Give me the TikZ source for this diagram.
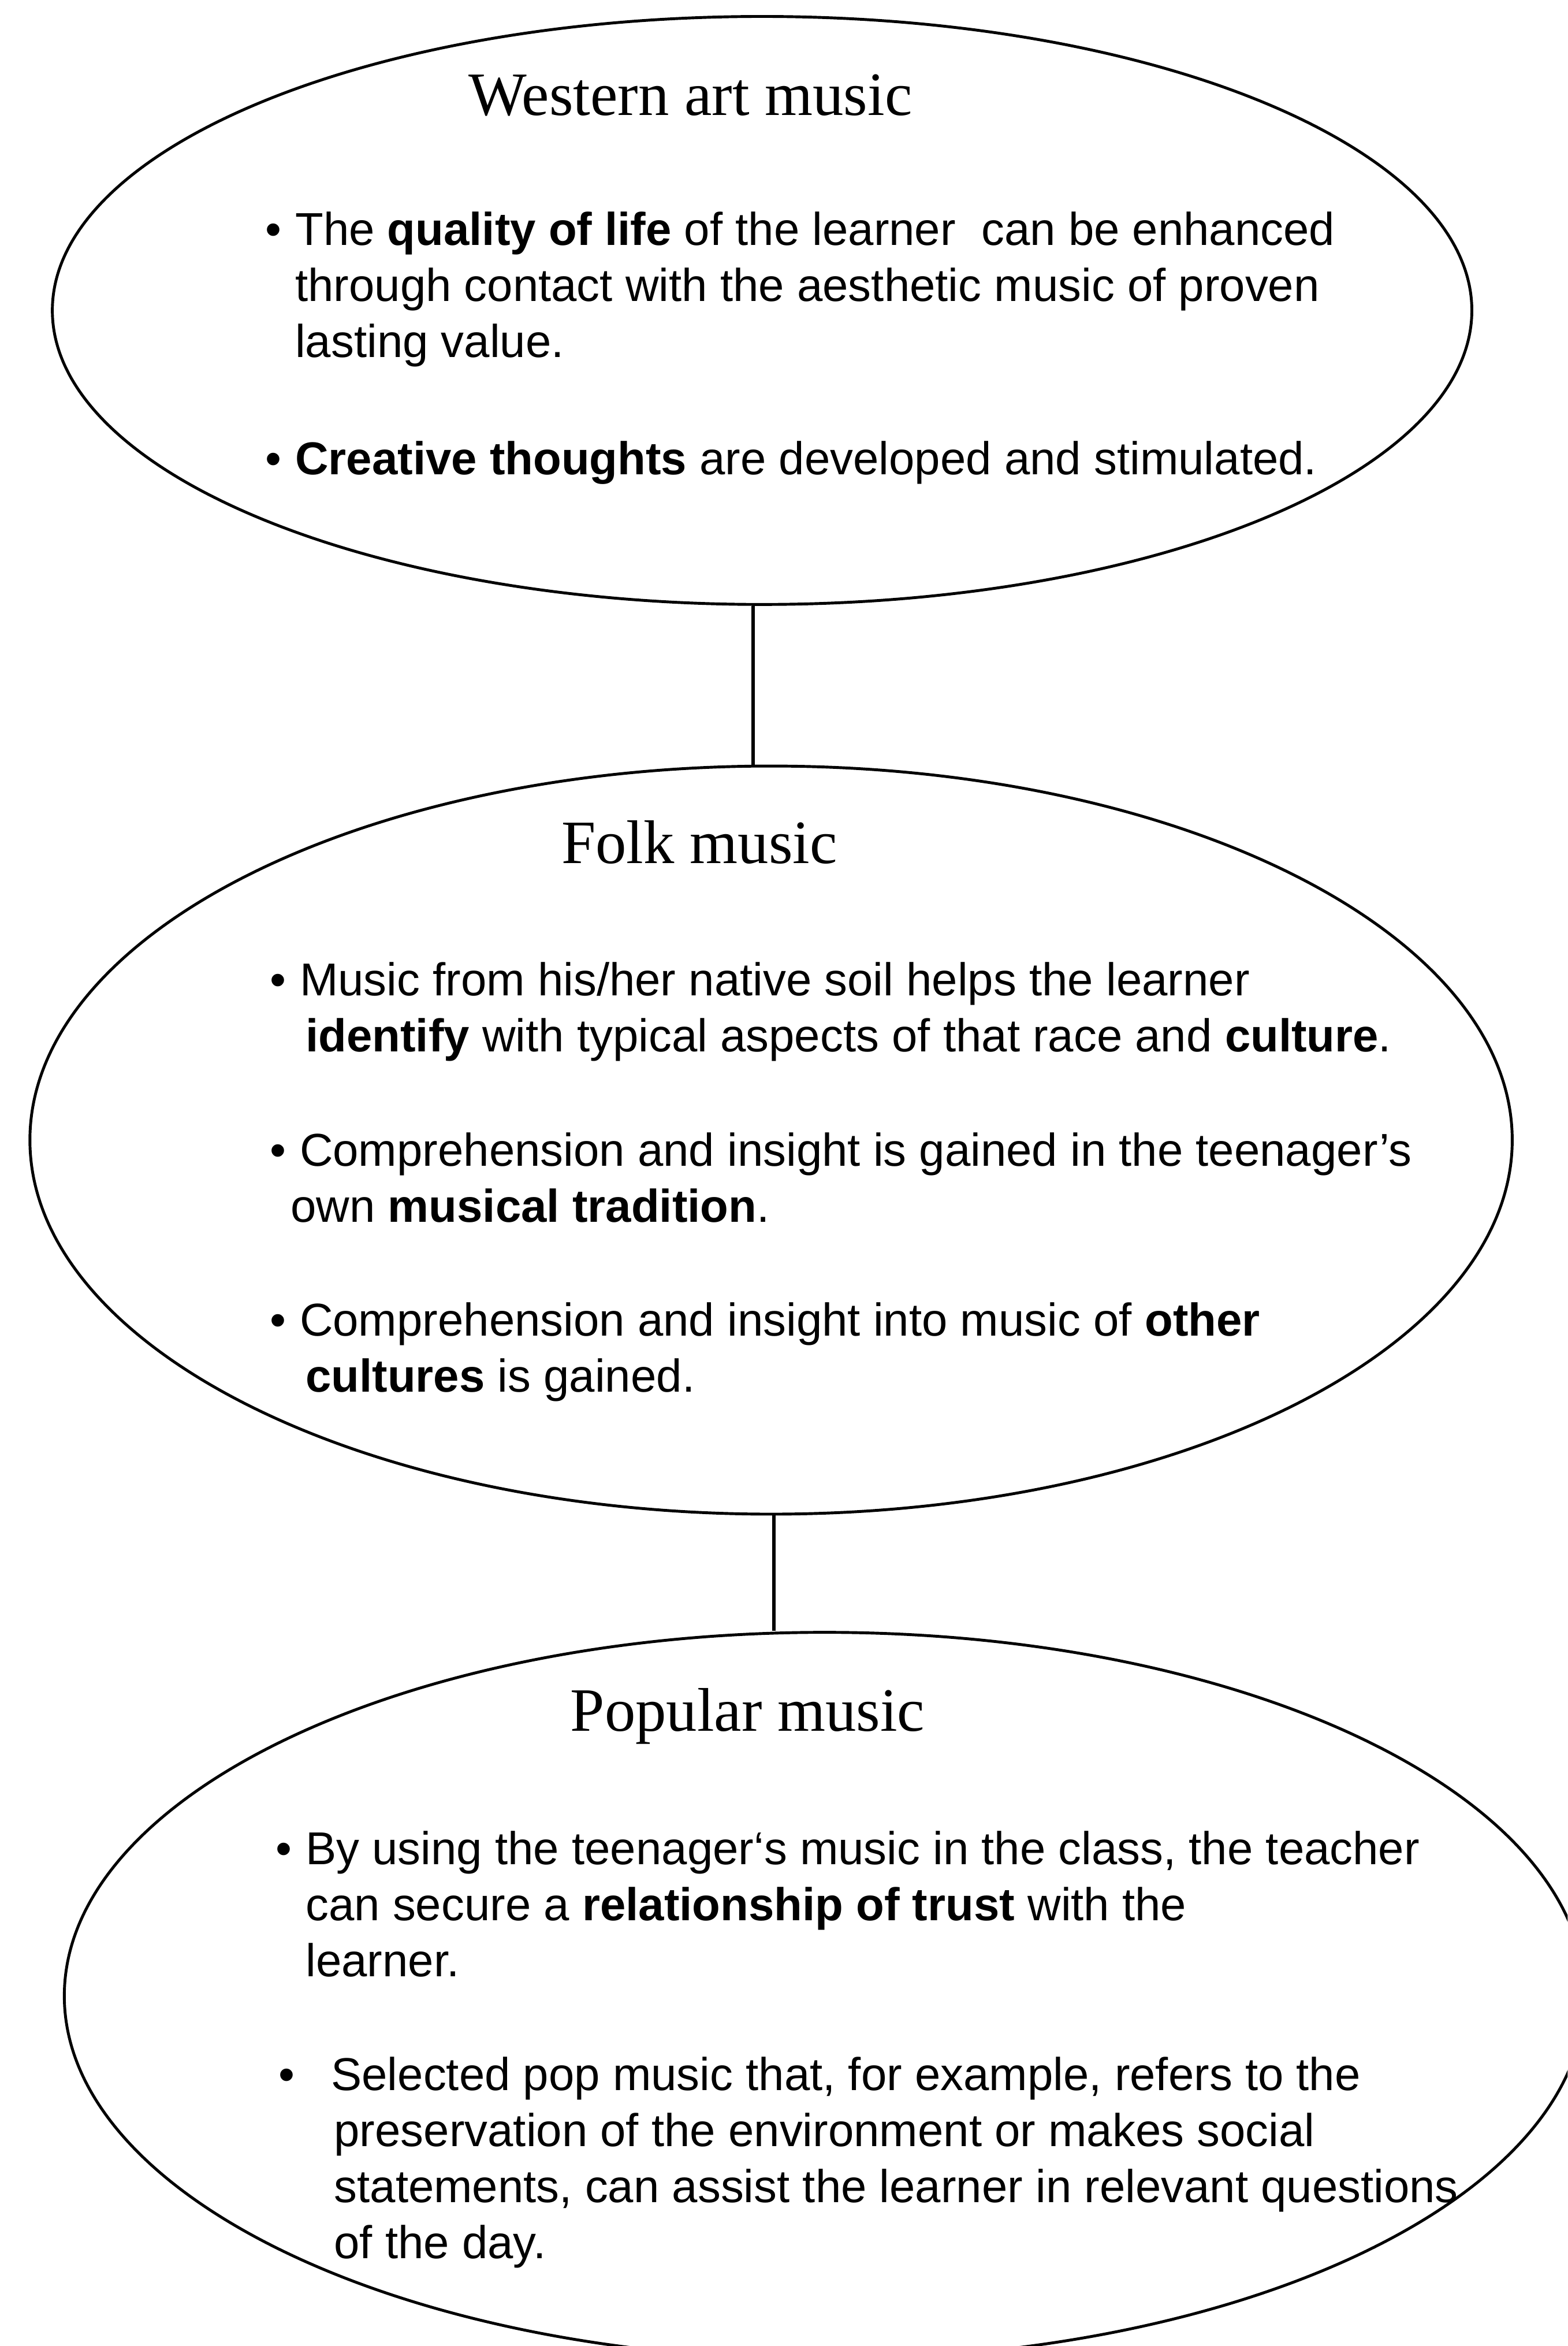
\documentclass[tikz,border=0pt]{standalone}
\usepackage{fontspec}
\setmainfont{Liberation Serif}
\setsansfont{Liberation Sans}
\usepackage{tikz}
\usetikzlibrary{shapes.geometric}
\tikzset{
  bub/.style  ={draw=black,ellipse,line width=0.95pt,inner sep=0pt},
  ttl/.style  ={font=\rmfamily\fontsize{20.6}{24}\selectfont,anchor=base west,inner sep=0pt},
  pnt/.style  ={font=\sffamily\fontsize{15.4}{18.75}\selectfont,anchor=base west,
                inner sep=0pt,align=left},
  lnk/.style  ={draw=black,line width=1.2pt},
}

\begin{document}
\begin{tikzpicture}[x=0.5pt, y=0.5pt]
\useasboundingbox (0,0) rectangle (1048,-1568);
\clip (0,0) rectangle (1048,-1568);

% multi-line pnt nodes sit on the baseline of their last line

% ===== Western art music ===================================================
\node[bub,minimum width=474.5pt,minimum height=196.5pt] (wam) at (509.5,-207.5) {};
\node[ttl] (wamT) at (313,-77) {Western art music};
\node[pnt] (wamD1) at (177,-164) {\textbullet};
\node[pnt] (wamP1) at (197,-239)
  {The \textbf{quality of life} of the learner\ \ can be enhanced\\
   through contact with the aesthetic music of proven\\
   lasting value.};
\node[pnt] (wamD2) at (177,-317) {\textbullet};
\node[pnt] (wamP2) at (197,-317)
  {\textbf{Creative thoughts} are developed and stimulated.};

% ===== Folk music ==========================================================
\node[bub,minimum width=495.5pt,minimum height=250pt] (folk) at (515.5,-762) {};
\node[ttl] (folkT) at (375,-577) {Folk music};
\node[pnt] (folkD1) at (180,-665.5) {\textbullet};
\node[pnt] (folkP1) at (200,-703)
  {Music from his/her native soil helps the learner\\
   \hspace*{2pt}\textbf{identify} with typical aspects of that race and \textbf{culture}.};
\node[pnt] (folkD2) at (180,-779.5) {\textbullet};
\node[pnt] (folkP2) at (200,-817)
  {Comprehension and insight is gained in the teenager's\\
   \hspace*{-3pt}own \textbf{musical tradition}.};
\node[pnt] (folkD3) at (180,-893) {\textbullet};
\node[pnt] (folkP3) at (200,-930.5)
  {Comprehension and insight into music of \textbf{other}\\
   \hspace*{2pt}\textbf{cultures} is gained.};

% ===== Popular music =======================================================
\node[bub,minimum width=508.3pt,minimum height=243pt] (pop) at (551.3,-1334) {};
\node[ttl] (popT) at (381,-1157) {Popular music};
\node[pnt] (popD1) at (184,-1246) {\textbullet};
\node[pnt] (popP1) at (204,-1321)
  {By using the teenager`s music in the class, the teacher\\
   can secure a \textbf{relationship of trust} with the\\
   learner.};
\node[pnt] (popD2) at (186,-1397) {\textbullet};
\node[pnt] (popP2) at (221,-1509.5)
  {Selected pop music that, for example, refers to the\\
   \hspace*{1pt}preservation of the environment or makes social\\
   \hspace*{1pt}statements, can assist the learner in relevant questions\\
   \hspace*{1pt}of the day.};

% ===== links ===============================================================
\draw[lnk] ([xshift=-3pt]wam.south) -- ([xshift=-3pt]wam.south |- folk.north);
\draw[lnk] ([xshift=1pt]folk.south) -- ([xshift=1pt]folk.south |- pop.north);
\end{tikzpicture}
\end{document}
